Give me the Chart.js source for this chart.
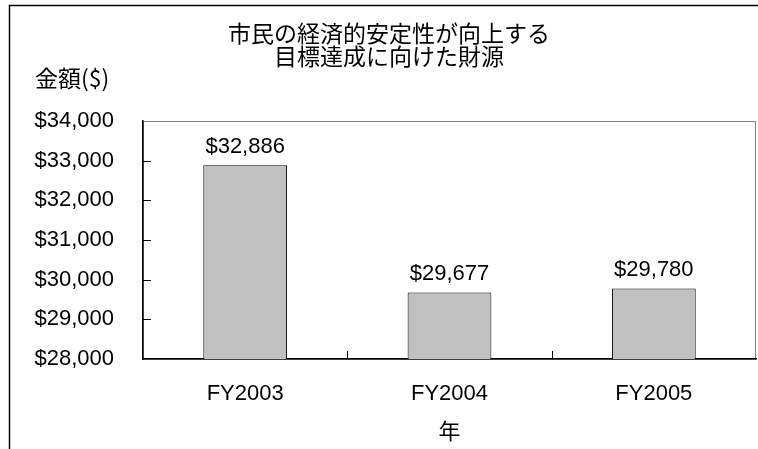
<!DOCTYPE html>
<html>
<head>
<meta charset="utf-8">
<script src="https://cdn.jsdelivr.net/npm/chart.js@4"></script>
<style>
  html, body { margin: 0; padding: 0; background: #fff; }
  #wrap { width: 758px; height: 449px; }
</style>
</head>
<body>
<div id="wrap"><canvas id="chart" width="758" height="449"></canvas></div>
<script>
const years = ['FY2003', 'FY2004', 'FY2005'];
const funding = [32886, 29677, 29780];
const titleLines = ['市民の経済的安定性が向上する', '目標達成に向けた財源'];
const yAxisLabel = '金額($)';
const xAxisLabel = '年';
const yMin = 28000;
const yMax = 34000;
const yStep = 1000;

const LATIN = "'Liberation Sans', 'Noto Sans CJK JP', sans-serif";
const CJK = "'Noto Sans CJK JP', 'Liberation Sans', sans-serif";

const money = v => '$' + Number(v).toLocaleString('en-US');

Chart.defaults.color = '#000';

// outer frame + plot area border, drawn before the bars
const frame = {
    id: 'frame',
    beforeDraw(chart) {
        const {ctx, chartArea: a} = chart;
        ctx.save();
        ctx.strokeStyle = '#000';
        ctx.lineWidth = 1.5;
        ctx.strokeRect(9.5, 5.5, 900, 600);
        ctx.strokeStyle = '#808080';
        ctx.lineWidth = 1;
        ctx.strokeRect(a.left + 0.5, a.top + 0.5, a.right - a.left - 1, a.bottom - a.top);
        ctx.restore();
    }
};

// inward tick marks, value labels and the horizontal y-axis title
const extras = {
    id: 'extras',
    afterDraw(chart) {
        const {ctx, chartArea: a, scales: {x, y}} = chart;
        ctx.save();
        ctx.strokeStyle = '#000';
        ctx.lineWidth = 1;
        ctx.beginPath();
        for (let v = yMin + yStep; v < yMax; v += yStep) {
            const py = Math.round(y.getPixelForValue(v)) + 0.5;
            ctx.moveTo(a.left, py);
            ctx.lineTo(a.left + 8, py);
        }
        for (let i = 1; i < years.length; i++) {
            const px = Math.round((x.getPixelForValue(i - 1) + x.getPixelForValue(i)) / 2) + 0.5;
            ctx.moveTo(px, a.bottom);
            ctx.lineTo(px, a.bottom - 8);
        }
        ctx.stroke();

        ctx.fillStyle = '#000';
        ctx.font = '22px ' + LATIN;
        ctx.textAlign = 'center';
        ctx.textBaseline = 'alphabetic';
        chart.getDatasetMeta(0).data.forEach((bar, i) => {
            ctx.fillText(money(funding[i]), bar.x, bar.y - 12);
        });

        ctx.font = '23px ' + CJK;
        ctx.textAlign = 'left';
        ctx.textBaseline = 'middle';
        ctx.fillText(yAxisLabel, 35, 78);
        ctx.restore();
    }
};

new Chart(document.getElementById('chart'), {
    type: 'bar',
    data: {
        labels: years,
        datasets: [{
            data: funding,
            backgroundColor: '#c0c0c0',
            borderColor: '#000',
            borderWidth: 1,
            categoryPercentage: 1,
            barPercentage: 0.41
        }]
    },
    options: {
        responsive: false,
        animation: false,
        devicePixelRatio: 1,
        layout: { padding: { left: 22, right: 2, top: 0, bottom: 0 } },
        plugins: {
            legend: { display: false },
            tooltip: { enabled: false },
            title: {
                display: true,
                text: titleLines,
                color: '#000',
                font: { family: CJK, size: 23, weight: 'normal', lineHeight: 1.0 },
                padding: { top: 22, bottom: 53 }
            }
        },
        scales: {
            x: {
                grid: { display: false },
                border: { display: true, color: '#000', width: 1.5 },
                ticks: { padding: 14, font: { family: LATIN, size: 22 } },
                title: {
                    display: true,
                    text: xAxisLabel,
                    font: { family: CJK, size: 22 },
                    padding: { top: 0, bottom: 5 }
                },
                afterFit(scale) { scale.height = 90; }
            },
            y: {
                min: yMin,
                max: yMax,
                grid: { display: false },
                border: { display: true, color: '#000', width: 1.5 },
                ticks: {
                    stepSize: yStep,
                    padding: 21,
                    font: { family: LATIN, size: 22 },
                    callback: v => money(v)
                },
                afterFit(scale) { scale.width = 121; }
            }
        }
    },
    plugins: [frame, extras]
});
</script>
</body>
</html>
